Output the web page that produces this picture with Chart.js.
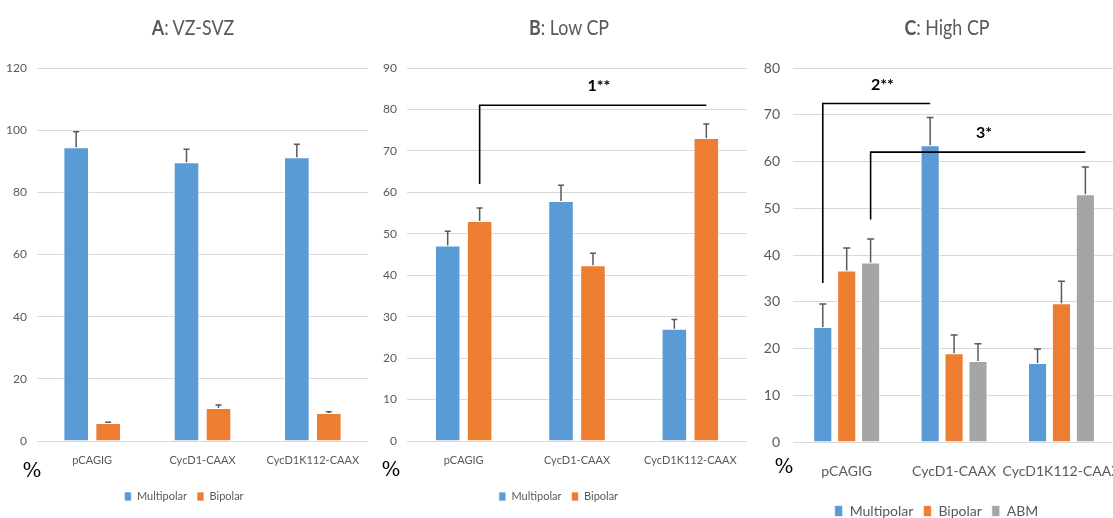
<!DOCTYPE html>
<html><head><meta charset="utf-8">
<script src="https://cdn.jsdelivr.net/npm/chart.js@4.4.1/dist/chart.umd.min.js"></script>
<style>
html,body{margin:0;padding:0;background:#fff;overflow:hidden;}
body{width:1113px;height:518px;position:relative;font-family:Lato,sans-serif;}
.panel{position:absolute;top:0;height:518px;}
.ttl{position:absolute;top:14px;color:#595959;font-size:21px;line-height:26px;white-space:nowrap;transform:translateX(-50%) scaleX(0.85);}
.pct{position:absolute;font-family:"DejaVu Serif",serif;font-size:20px;line-height:20px;color:#000;transform:translate(-50%,-50%);}
</style></head>
<body>
<div class="panel" style="left:0;width:386px"><canvas id="chartA" width="386" height="518"></canvas></div>
<div class="panel" style="left:370px;width:400px"><canvas id="chartB" width="400" height="518"></canvas></div>
<div class="panel" style="left:750px;width:395px"><canvas id="chartC" width="395" height="518"></canvas></div>
<div class="ttl" style="left:193px"><b>A</b>: VZ-SVZ</div>
<div class="ttl" style="left:569px"><b>B</b>: Low CP</div>
<div class="ttl" style="left:947px"><b>C</b>: High CP</div>
<div class="pct" style="left:32px;top:470px">%</div>
<div class="pct" style="left:391px;top:469px">%</div>
<div class="pct" style="left:784px;top:466px">%</div>
<script>
const categories=["pCAGIG","CycD1-CAAX","CycD1K112-CAAX"];
const seriesNames=["Multipolar","Bipolar","ABM"];
const seriesColors=["#5b9bd5","#ed7d31","#a5a5a5"];

// A: VZ-SVZ
const aTicks=[0,20,40,60,80,100,120];
const aMultipolar=[94.5,89.7,91.3];
const aMultipolarErr=[5.0,4.2,4.2];
const aBipolar=[5.8,10.6,9.0];
const aBipolarErr=[0.2,1.0,0.4];

// B: Low CP
const bTicks=[0,10,20,30,40,50,60,70,80,90];
const bMultipolar=[47.2,57.9,27.1];
const bMultipolarErr=[3.4,3.8,2.2];
const bBipolar=[53.1,42.4,73.1];
const bBipolarErr=[3.1,2.9,3.4];
const bBrackets=[{from:[0,1],to:[2,1],low:62,high:81,label:"1**"}];

// C: High CP
const cTicks=[0,10,20,30,40,50,60,70,80];
const cMultipolar=[24.6,63.5,16.9];
const cMultipolarErr=[4.9,5.9,3.0];
const cBipolar=[36.7,19.0,29.7];
const cBipolarErr=[4.8,3.9,4.7];
const cABM=[38.4,17.3,53.0];
const cABMErr=[5.0,3.7,5.8];
const cBrackets=[
  {from:[0,0],to:[1,0],low:34,high:72.4,label:"2**"},
  {from:[0,2],to:[2,2],low:47.6,high:62,label:"3*"}
];

const FONT="Lato";

// error bars + significance brackets
function extras(errs,brackets,capW){
  return {id:"extras",
    afterDatasetsDraw(chart){
      const c=chart.ctx,y=chart.scales.y;
      c.save();
      c.strokeStyle="#595959";c.lineWidth=1.5;
      errs.forEach((e,d)=>{
        chart.getDatasetMeta(d).data.forEach((bar,i)=>{
          const top=y.getPixelForValue(chart.data.datasets[d].data[i]+e[i]);
          c.beginPath();
          c.moveTo(bar.x,bar.y);c.lineTo(bar.x,top);
          c.moveTo(bar.x-capW/2,top);c.lineTo(bar.x+capW/2,top);
          c.stroke();
        });
      });
      c.strokeStyle="#000";c.fillStyle="#000";c.lineWidth=1.6;
      c.font="bold 16px "+FONT;c.textAlign="center";c.textBaseline="middle";
      brackets.forEach(b=>{
        const x1=chart.getDatasetMeta(b.from[1]).data[b.from[0]].x;
        const x2=chart.getDatasetMeta(b.to[1]).data[b.to[0]].x;
        const yl=y.getPixelForValue(b.low),yh=y.getPixelForValue(b.high);
        c.beginPath();c.moveTo(x1,yl);c.lineTo(x1,yh);c.lineTo(x2,yh);c.stroke();
        c.fillText(b.label,(x1+x2)/2+6,yh-19);
      });
      c.restore();
    }};
}

function makeChart(id,series,ticks,errs,brackets,o){
  const datasets=series.map((s,k)=>({label:seriesNames[k],data:s,backgroundColor:seriesColors[k],
    borderColor:"rgba(255,255,255,0.7)",borderWidth:1,
    barPercentage:o.barPct,categoryPercentage:o.catPct}));
  return new Chart(document.getElementById(id),{
    type:"bar",
    data:{labels:categories,datasets},
    options:{
      responsive:false,animation:false,
      layout:{padding:{top:68,right:o.padRight,bottom:o.padBottom,left:0}},
      plugins:{
        title:{display:false},tooltip:{enabled:false},
        legend:{position:"bottom",labels:{boxWidth:o.box[0],boxHeight:o.box[1],padding:o.legPad,
          color:"#595959",font:{family:FONT,size:o.legFont}}}
      },
      scales:{
        x:{grid:{display:false,drawTicks:false},border:{display:false},
          ticks:{color:"#595959",font:{family:FONT,size:o.catFont},padding:o.catPad,maxRotation:0,autoSkip:false},
          afterFit(s){s.height=o.xH;}},
        y:{min:ticks[0],max:ticks[ticks.length-1],
          grid:{color:"#d9d9d9",lineWidth:1,drawTicks:false},border:{display:false},
          ticks:{stepSize:ticks[1]-ticks[0],color:"#595959",font:{family:FONT,size:o.yFont},padding:o.yPad},
          afterFit(s){s.width=o.yW;s.paddingTop=0;s.paddingBottom=0;}}
      }
    },
    plugins:[extras(errs,brackets,o.cap)]
  });
}

makeChart("chartA",[aMultipolar,aBipolar],aTicks,[aMultipolarErr,aBipolarErr],[],
  {barPct:0.8,catPct:0.58,padRight:18,padBottom:6,xH:40,yW:37,yPad:10,yFont:12,catFont:11,catPad:13,
   legFont:11,legPad:10,box:[7,9],cap:6});
makeChart("chartB",[bMultipolar,bBipolar],bTicks,[bMultipolarErr,bBipolarErr],bBrackets,
  {barPct:0.8,catPct:0.564,padRight:23,padBottom:6,xH:40,yW:37,yPad:10,yFont:12,catFont:11,catPad:13,
   legFont:11,legPad:10,box:[7,9],cap:6});
makeChart("chartC",[cMultipolar,cBipolar,cABM],cTicks,[cMultipolarErr,cBipolarErr,cABMErr],cBrackets,
  {barPct:0.8,catPct:0.668,padRight:22,padBottom:-10,xH:52,yW:43,yPad:13,yFont:14,catFont:14,catPad:21,
   legFont:14,legPad:10,box:[8,11],cap:7});
</script>
</body></html>
